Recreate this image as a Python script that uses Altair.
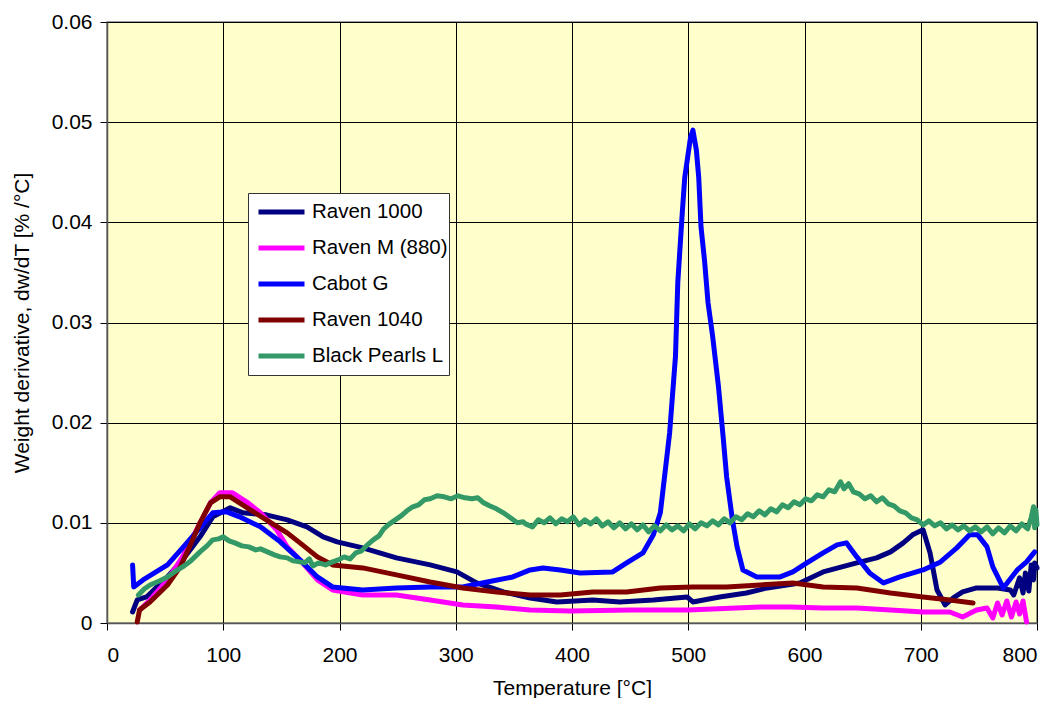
import altair as alt
import pandas as pd

series_names = ["Raven 1000", "Raven M (880)", "Cabot G", "Raven 1040", "Black Pearls L"]
series_colors = ["#000080", "#FF00FF", "#0000FF", "#800000", "#339966"]
series_widths = [5, 5, 5, 3.5, 3.5]

t_raven1000 = [22, 26, 34, 52, 65, 80, 91, 106, 117, 137, 155, 172, 186, 198, 220, 249, 278, 301,
               318, 341, 364, 387, 418, 441, 470, 499, 504, 527, 550, 568, 596, 616, 645, 662,
               674, 685, 693, 702, 708, 714, 721, 728, 736, 748, 766, 777, 780, 785, 788, 790,
               793, 795, 797, 798, 800]
v_raven1000 = [0.0011, 0.0023, 0.0026, 0.0046, 0.0063, 0.0086, 0.0106, 0.0115, 0.0110, 0.0108,
               0.0103, 0.0096, 0.0086, 0.0081, 0.0075, 0.0065, 0.0058, 0.0051, 0.0040, 0.0031,
               0.0025, 0.0021, 0.0023, 0.0021, 0.0023, 0.0026, 0.0021, 0.0026, 0.0030, 0.0035,
               0.0040, 0.0051, 0.0060, 0.0065, 0.0071, 0.0080, 0.0088, 0.0093, 0.0070, 0.0033,
               0.0018, 0.0025, 0.0031, 0.0035, 0.0035, 0.0033, 0.0028, 0.0045, 0.0030, 0.0050,
               0.0032, 0.0058, 0.0043, 0.0060, 0.0055]

t_ravenM = [28, 37, 52, 65, 77, 89, 97, 108, 120, 132, 146, 155, 166, 181, 194, 220, 249, 278,
            306, 335, 364, 398, 450, 500, 562, 588, 616, 645, 674, 702, 725, 736, 748, 757, 762,
            766, 770, 774, 778, 782, 785, 788, 791]
v_ravenM = [0.0013, 0.0023, 0.0043, 0.0066, 0.0093, 0.0120, 0.0130, 0.0130, 0.0121, 0.0110,
            0.0093, 0.0076, 0.0063, 0.0043, 0.0033, 0.0028, 0.0028, 0.0023, 0.0018, 0.0016,
            0.0013, 0.0012, 0.0013, 0.0013, 0.0016, 0.0016, 0.0015, 0.0015, 0.0013, 0.0011,
            0.0011, 0.0006, 0.0013, 0.0015, 0.0005, 0.0020, 0.0008, 0.0022, 0.0006, 0.0021,
            0.0009, 0.0022, 0.0001]

t_cabotG = [22, 23, 31, 52, 65, 80, 91, 103, 114, 132, 149, 166, 181, 194, 220, 249, 278, 306,
            327, 349, 364, 375, 390, 407, 435, 447, 461, 470, 476, 478, 484, 489, 491, 495, 497,
            502, 504, 507, 509, 511, 514, 517, 521, 526, 530, 533, 538, 542, 547, 559, 579, 590,
            602, 616, 628, 636, 645, 656, 668, 682, 702, 717, 731, 742, 749, 757, 762, 771, 783,
            791, 798]
v_cabotG = [0.0058, 0.0036, 0.0043, 0.0058, 0.0075, 0.0095, 0.0110, 0.0111, 0.0106, 0.0096,
            0.0081, 0.0063, 0.0046, 0.0036, 0.0033, 0.0035, 0.0036, 0.0036, 0.0041, 0.0046,
            0.0053, 0.0055, 0.0053, 0.0050, 0.0051, 0.0060, 0.0070, 0.0088, 0.0110, 0.0130,
            0.0190, 0.0266, 0.0340, 0.0412, 0.0445, 0.0485, 0.0492, 0.0472, 0.0445, 0.0395,
            0.0362, 0.0320, 0.0286, 0.0236, 0.0186, 0.0146, 0.0103, 0.0076, 0.0053, 0.0046,
            0.0046, 0.0051, 0.0060, 0.0070, 0.0078, 0.0080, 0.0066, 0.0050, 0.0040, 0.0046,
            0.0053, 0.0061, 0.0075, 0.0088, 0.0088, 0.0076, 0.0056, 0.0035, 0.0053, 0.0061,
            0.0071]

t_raven1040 = [26, 28, 37, 52, 63, 71, 80, 89, 97, 106, 114, 126, 137, 155, 166, 181, 194, 220,
               249, 278, 306, 335, 364, 390, 418, 447, 476, 504, 533, 562, 590, 616, 645, 674,
               702, 725, 745]
v_raven1040 = [0.0001, 0.0013, 0.0021, 0.0038, 0.0056, 0.0076, 0.0100, 0.0120, 0.0126, 0.0126,
               0.0120, 0.0111, 0.0103, 0.0090, 0.0080, 0.0066, 0.0058, 0.0055, 0.0048, 0.0041,
               0.0035, 0.0031, 0.0028, 0.0028, 0.0031, 0.0031, 0.0035, 0.0036, 0.0036, 0.0038,
               0.0040, 0.0036, 0.0035, 0.0030, 0.0026, 0.0023, 0.0020]

t_blackpearls = [27, 32, 37, 45, 52, 58, 65, 72, 80, 86, 91, 96, 100, 105, 110, 116, 122, 128,
                 132, 138, 144, 149, 155, 160, 166, 170, 174, 177, 182, 188, 194, 199, 204, 209,
                 214, 219, 224, 229, 234, 238, 243, 248, 253, 258, 263, 268, 273, 278, 284, 290,
                 296, 302, 308, 314, 319, 324, 329, 335, 341, 347, 353, 358, 360, 366, 371, 376,
                 381, 386, 391, 396, 401, 406, 411, 416, 421, 426, 431, 436, 441, 446, 451, 456,
                 461, 466, 471, 476, 481, 486, 491, 496, 501, 506, 511, 516, 521, 526, 531, 536,
                 541, 546, 551, 556, 561, 566, 571, 576, 581, 586, 591, 596, 601, 606, 611, 616,
                 621, 626, 631, 634, 638, 642, 647, 652, 657, 662, 667, 672, 677, 682, 687, 692,
                 697, 702, 707, 712, 717, 722, 727, 732, 737, 742, 747, 752, 757, 762, 767, 772,
                 777, 782, 787, 792, 795, 797, 798, 799, 800]
v_blackpearls = [0.0028, 0.0034, 0.0038, 0.0042, 0.0046, 0.0051, 0.0056, 0.0062, 0.0071, 0.0077,
                 0.0083, 0.0084, 0.0086, 0.0082, 0.0080, 0.0077, 0.0076, 0.0073, 0.0074, 0.0071,
                 0.0068, 0.0066, 0.0065, 0.0062, 0.0061, 0.0060, 0.0064, 0.0057, 0.0060, 0.0058,
                 0.0061, 0.0063, 0.0066, 0.0064, 0.0070, 0.0072, 0.0078, 0.0083, 0.0087, 0.0094,
                 0.0099, 0.0103, 0.0107, 0.0112, 0.0116, 0.0118, 0.0123, 0.0124, 0.0127, 0.0126,
                 0.0124, 0.0127, 0.0125, 0.0124, 0.0125, 0.0120, 0.0117, 0.0114, 0.0110, 0.0105,
                 0.0100, 0.0101, 0.0099, 0.0096, 0.0103, 0.0100, 0.0105, 0.0099, 0.0104, 0.0101,
                 0.0106, 0.0098, 0.0103, 0.0099, 0.0104, 0.0097, 0.0101, 0.0095, 0.0100, 0.0094,
                 0.0099, 0.0093, 0.0098, 0.0091, 0.0097, 0.0092, 0.0098, 0.0093, 0.0097, 0.0092,
                 0.0099, 0.0094, 0.0100, 0.0097, 0.0102, 0.0098, 0.0104, 0.0100, 0.0106, 0.0103,
                 0.0109, 0.0106, 0.0112, 0.0108, 0.0114, 0.0111, 0.0118, 0.0115, 0.0121, 0.0118,
                 0.0124, 0.0122, 0.0128, 0.0126, 0.0133, 0.0131, 0.0141, 0.0134, 0.0139, 0.0131,
                 0.0129, 0.0124, 0.0127, 0.0121, 0.0125, 0.0119, 0.0117, 0.0112, 0.0110, 0.0105,
                 0.0103, 0.0098, 0.0102, 0.0097, 0.0100, 0.0094, 0.0098, 0.0093, 0.0097, 0.0092,
                 0.0096, 0.0091, 0.0096, 0.0089, 0.0095, 0.0090, 0.0097, 0.0092, 0.0099, 0.0094,
                 0.0105, 0.0116, 0.0095, 0.0113, 0.0098]

x_ticks = [0, 100, 200, 300, 400, 500, 600, 700, 800]
y_ticks = [0, 0.01, 0.02, 0.03, 0.04, 0.05, 0.06]

all_t = [t_raven1000, t_ravenM, t_cabotG, t_raven1040, t_blackpearls]
all_v = [v_raven1000, v_ravenM, v_cabotG, v_raven1040, v_blackpearls]

rows = []
for name, ts, vs in zip(series_names, all_t, all_v):
    for t, v in zip(ts, vs):
        rows.append({"series": name, "T": t, "v": v})
df = pd.DataFrame(rows)

FONT = "Liberation Sans"

legend_props = dict(
    title=None, orient="none", legendX=141, legendY=171,
    symbolType="stroke", symbolSize=2116, clipHeight=36, rowPadding=0,
    padding=1, symbolOffset=7, labelOffset=5,
    labelFont=FONT, labelFontSize=20.5, labelColor="black",
    fillColor="white", strokeColor="#333333",
)

chart = alt.Chart(df).mark_line(strokeJoin="round", strokeCap="round").encode(
    x=alt.X("T:Q", scale=alt.Scale(domain=[0, 800], nice=False),
            axis=alt.Axis(values=x_ticks, title="Temperature [°C]", format="d",
                          labelPadding=14, titlePadding=12)),
    y=alt.Y("v:Q", scale=alt.Scale(domain=[0, 0.06], nice=False),
            axis=alt.Axis(values=y_ticks, title="Weight derivative, dw/dT [% /°C]",
                          labelExpr="datum.value == 0 ? '0' : format(datum.value, '.2f')",
                          labelPadding=8, titleX=-85, titleY=300.5, titleBaseline="middle")),
    color=alt.Color("series:N", scale=alt.Scale(domain=series_names, range=series_colors),
                    legend=alt.Legend(**legend_props)),
    strokeWidth=alt.StrokeWidth("series:N", scale=alt.Scale(domain=series_names, range=series_widths),
                                legend=alt.Legend(**legend_props)),
).properties(
    width=930, height=601,
    autosize=alt.AutoSizeParams(type="none"),
    padding={"left": 99, "top": 14, "right": 12, "bottom": 75},
).configure_view(
    fill="#FFFFCC", stroke="#808080", strokeWidth=1.5
).configure_axis(
    grid=True, gridColor="black", gridWidth=1, gridOpacity=1,
    tickColor="black", tickSize=7, tickWidth=1,
    domainColor="#555555", domainWidth=1.5,
    labelFont=FONT, labelFontSize=21, labelColor="black",
    titleFont=FONT, titleFontSize=21, titleFontWeight="normal", titleColor="black",
)

chart.save("out.html", embed_options={"renderer": "svg", "actions": False})
